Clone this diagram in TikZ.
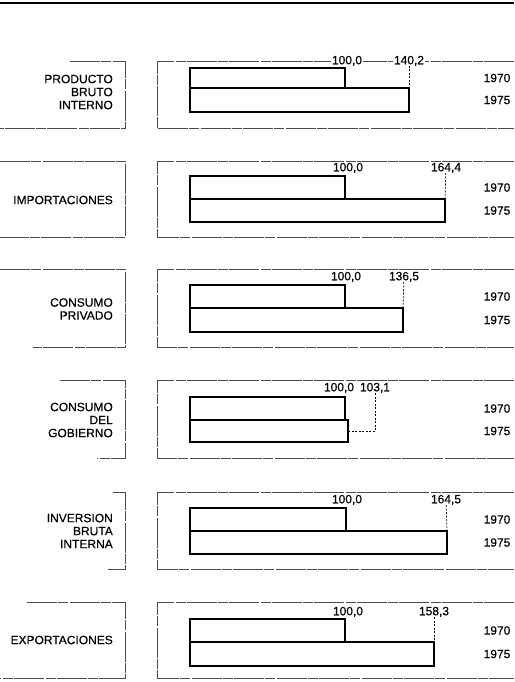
\documentclass[tikz,border=0pt]{standalone}
\usepackage{fontspec}
\setmainfont{Liberation Sans}[FakeBold=0.4]
\newfontfamily\rotulo{Liberation Sans}[FakeBold=0.4]
\usetikzlibrary{positioning}

\tikzset{
  txt/.style={font=\rotulo\fontsize{12}{13}\selectfont, inner sep=0pt},
  val/.style={txt, anchor=south, fill=white, inner xsep=1pt},
  year/.style={txt},
  rubro/.style={txt, align=right, anchor=east},
  bar/.style={draw, line width=1.1pt},
  frame/.style={line width=0.6pt, black!70, dash pattern=on 30pt off 1pt on 10pt off 1.5pt},
  lead/.style={line width=0.7pt, dash pattern=on 2pt off 1.5pt}
}

\begin{document}
\begin{tikzpicture}[x=1pt,y=-1pt]
    \useasboundingbox (0,0) rectangle (514,682);
    \draw [line width=1.6pt] (0,3) -- (514,3);
    % producto bruto interno
    \draw [frame] (70,61) -- (125,61) -- (125,128) -- (0,128);
    \draw [frame] (514,61) -- (157,61) -- (157,128) -- (514,128);
    \node [rubro] (pbi) at (113,92) {PRODUCTO\\BRUTO\\INTERNO};
    \draw [bar] (190,68) rectangle (345,88);
    \draw [bar] (190,88) rectangle (409,112);
    \node [val] (pbia) at (347,66) {100,0};
    \node [val] (pbib) at (409,66) {140,2};
    \coordinate (pbie) at (409,88);
    \draw [lead] (pbib) -- (pbie);
    \node [year] (pbiy0) at (497,78) {1970};
    \node [year] (pbiy5) at (497,100) {1975};
    % importaciones
    \draw [frame] (0,161) -- (125,161) -- (125,237) -- (0,237);
    \draw [frame] (514,161) -- (157,161) -- (157,237) -- (514,237);
    \node [rubro] (imp) at (113,200) {IMPORTACIONES};
    \draw [bar] (190,176) rectangle (345,199);
    \draw [bar] (190,199) rectangle (445,222);
    \node [val] (impa) at (348,173) {100,0};
    \node [val] (impb) at (446,173) {164,4};
    \coordinate (impe) at (445,199);
    \draw [lead] (impb) -- (impe);
    \node [year] (impy0) at (497,187.5) {1970};
    \node [year] (impy5) at (497,210.5) {1975};
    % consumo privado
    \draw [frame] (0,269) -- (125,269) -- (125,347) -- (33,347);
    \draw [frame] (514,269) -- (157,269) -- (157,347) -- (514,347);
    \node [rubro] (cpr) at (113,309) {CONSUMO\\PRIVADO};
    \draw [bar] (190,285) rectangle (345,308);
    \draw [bar] (190,308) rectangle (403,332);
    \node [val] (cpra) at (346,282) {100,0};
    \node [val] (cprb) at (404,282) {136,5};
    \coordinate (cpre) at (403,308);
    \draw [lead] (cprb) -- (cpre);
    \node [year] (cpry0) at (497,296.5) {1970};
    \node [year] (cpry5) at (497,320) {1975};
    % consumo del gobierno
    \draw [frame] (60,380) -- (125,380) -- (125,458) -- (97,458);
    \draw [frame] (514,380) -- (157,380) -- (157,458) -- (514,458);
    \node [rubro] (cgo) at (113,420) {CONSUMO\\DEL\\GOBIERNO};
    \draw [bar] (190,397) rectangle (345,420);
    \draw [bar] (190,420) rectangle (348,442);
    \node [val] (cgoa) at (339,393) {100,0};
    \node [val] (cgob) at (375,393) {103,1};
    \coordinate (cgoe) at (348,431);
    \draw [lead] (cgob) |- (cgoe);
    \node [year] (cgoy0) at (497,408.5) {1970};
    \node [year] (cgoy5) at (497,431) {1975};
    % inversion bruta interna
    \draw [frame] (113,492) -- (125,492) -- (125,569) -- (108,569);
    \draw [frame] (514,492) -- (157,492) -- (157,569) -- (514,569);
    \node [rubro] (ibi) at (113,531) {INVERSION\\BRUTA\\INTERNA};
    \draw [bar] (190,508) rectangle (346,531);
    \draw [bar] (190,531) rectangle (447,554);
    \node [val] (ibia) at (347,505) {100,0};
    \node [val] (ibib) at (446,505) {164,5};
    \coordinate (ibie) at (447,531);
    \draw [lead] (ibib) -- (ibie);
    \node [year] (ibiy0) at (497,519.5) {1970};
    \node [year] (ibiy5) at (497,542.5) {1975};
    % exportaciones
    \draw [frame] (27,602) -- (125,602) -- (125,678) -- (0,678);
    \draw [frame] (514,602) -- (157,602) -- (157,678) -- (514,678);
    \node [rubro] (exp) at (113,640) {EXPORTACIONES};
    \draw [bar] (190,619) rectangle (345,642);
    \draw [bar] (190,642) rectangle (434,666);
    \node [val] (expa) at (348,617) {100,0};
    \node [val] (expb) at (434,617) {158,3};
    \coordinate (expe) at (434,642);
    \draw [lead] (expb) -- (expe);
    \node [year] (expy0) at (497,630.5) {1970};
    \node [year] (expy5) at (497,654) {1975};
\end{tikzpicture}
\end{document}
